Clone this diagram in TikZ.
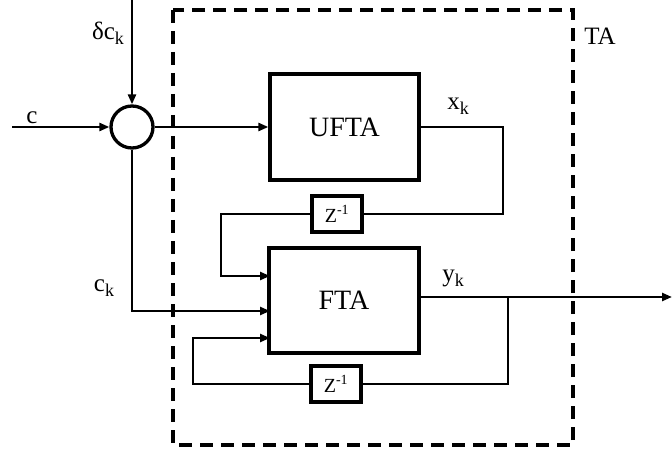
\documentclass[tikz,border=0pt]{standalone}
\usepackage{fontspec}
\setmainfont{Liberation Serif}
\usetikzlibrary{arrows.meta}
\newcommand\mysub[1]{\raisebox{-0.45ex}{\fontsize{18}{18}\selectfont #1}}
\begin{document}
\begin{tikzpicture}[x=1pt,y=-1pt,
  blk/.style={draw, line width=3.3pt, inner sep=0pt, font=\fontsize{28}{28}\selectfont},
  zblk/.style={draw, line width=3.3pt, inner sep=0pt, minimum width=50pt, minimum height=36pt, font=\fontsize{20}{20}\selectfont},
  lbl/.style={inner sep=0pt, font=\fontsize{25}{25}\selectfont},
  wire/.style={line width=2.4pt},
  arr/.style={wire, -{Triangle[length=10pt,width=8pt]}},
  tabox/.style={line width=3.5pt, dash pattern=on 13pt off 8pt}]
\useasboundingbox (0,0) rectangle (672,457);
\draw[tabox] (173,10) rectangle (573,445);
\node[lbl] (ta) at (600,36) {TA};

\node[draw, circle, line width=3.3pt, minimum size=42pt, inner sep=0pt] (sum) at (132,127) {};
\node[blk, minimum width=149pt, minimum height=106pt] (ufta) at (344.5,127) {UFTA};
\node[blk, minimum width=150pt, minimum height=105pt] (fta) at (344,300.5) {FTA};
\node[zblk] (z1) at (337,214) {Z\textsuperscript{-1}};
\node[zblk] (z2) at (336,384) {Z\textsuperscript{-1}};

\coordinate (dtop) at (132,0);
\coordinate (cin) at (12,127);
\coordinate (xc) at (503,127);
\coordinate (fbA) at (221,276);
\coordinate (inA) at (270,276);
\coordinate (inB) at (270,311);
\coordinate (fbC) at (193,338);
\coordinate (inC) at (270,338);
\coordinate (yo) at (419,297);
\coordinate (yb) at (508,297);
\coordinate (out) at (672,297);

\draw[arr] (dtop) -- (sum.north);
\draw[arr] (cin) -- (sum.west);
\draw[arr] (sum.east) -- (ufta.west);
\draw[wire] (ufta.east) -- (xc) |- (z1.east);
\draw[arr] (z1.west) -| (fbA) -- (inA);
\draw[arr] (sum.south) |- (inB);
\draw[arr] (yo) -- (out);
\draw[wire] (yb) |- (z2.east);
\draw[arr] (z2.west) -| (fbC) -- (inC);

\node[lbl] (ldc) at (108,33) {δc\mysub{k}};
\node[lbl] (lc) at (32,118) {c};
\node[lbl] (lck) at (104,288) {c\mysub{k}};
\node[lbl] (lxk) at (458,106) {x\mysub{k}};
\node[lbl] (lyk) at (453,278) {y\mysub{k}};
\end{tikzpicture}
\end{document}
